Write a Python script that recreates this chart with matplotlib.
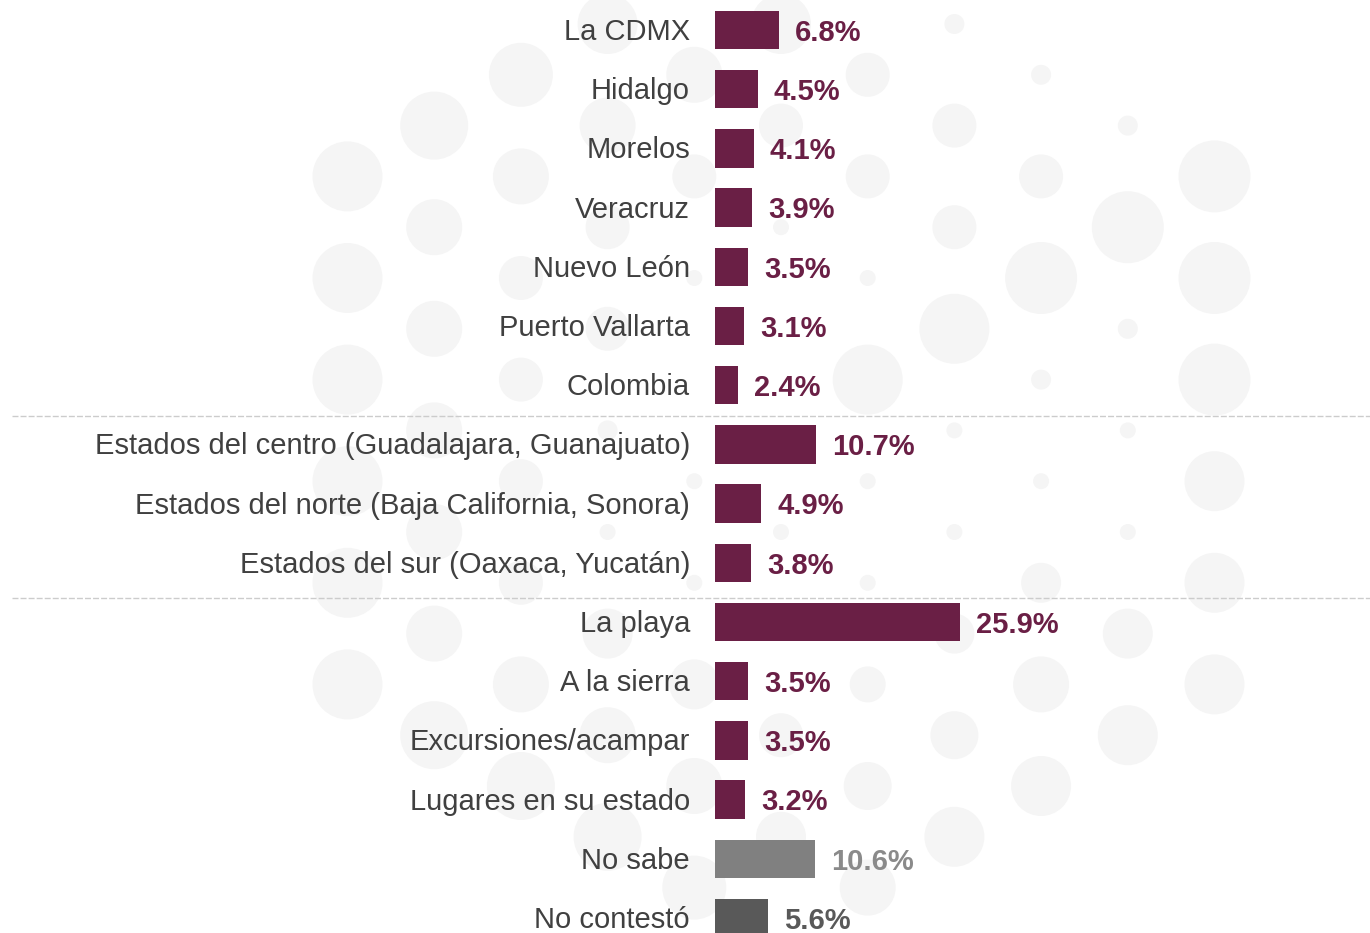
import matplotlib
matplotlib.use("Agg")
import matplotlib.pyplot as plt
from matplotlib.patches import Circle
import numpy as np

plt.rcParams['font.family'] = ['Liberation Sans', 'DejaVu Sans']

categories = ["La CDMX", "Hidalgo", "Morelos", "Veracruz", "Nuevo León",
              "Puerto Vallarta", "Colombia",
              "Estados del centro (Guadalajara, Guanajuato)",
              "Estados del norte (Baja California, Sonora)",
              "Estados del sur (Oaxaca, Yucatán)",
              "La playa", "A la sierra", "Excursiones/acampar",
              "Lugares en su estado", "No sabe", "No contestó"]
values = [6.8, 4.5, 4.1, 3.9, 3.5, 3.1, 2.4, 10.7, 4.9, 3.8,
          25.9, 3.5, 3.5, 3.2, 10.6, 5.6]
value_labels = ["6.8%", "4.5%", "4.1%", "3.9%", "3.5%", "3.1%", "2.4%",
                "10.7%", "4.9%", "3.8%", "25.9%", "3.5%", "3.5%", "3.2%",
                "10.6%", "5.6%"]
group_breaks = [6.52, 9.59]

MAROON = "#6a1f45"
bar_colors = [MAROON] * 14 + ["#808080", "#595959"]
label_colors = [MAROON] * 14 + ["#8a8a8a", "#595959"]

# decorative background dot pattern: (column, row, radius px)
deco_dots = [
    (-5, 3, 35), (-5, 5, 35), (-5, 7, 35), (-5, 9, 35), (-5, 11, 35), (-5, 13, 35),
    (-4, 2, 34), (-4, 4, 28), (-4, 6, 28), (-4, 8, 28), (-4, 10, 28), (-4, 12, 28), (-4, 14, 34),
    (-3, 1, 32), (-3, 3, 28), (-3, 5, 22), (-3, 7, 22), (-3, 9, 22), (-3, 11, 22), (-3, 13, 28), (-3, 15, 34),
    (-2, 0, 30), (-2, 2, 28), (-2, 4, 22), (-2, 6, 22), (-2, 8, 10), (-2, 10, 8), (-2, 12, 25), (-2, 14, 28), (-2, 16, 34),
    (-1, 1, 28), (-1, 3, 22), (-1, 5, 8), (-1, 9, 8), (-1, 11, 8), (-1, 13, 25), (-1, 15, 28), (-1, 17, 32),
    (0, 0, 30), (0, 2, 22), (0, 4, 8), (0, 10, 8), (0, 14, 22), (0, 16, 25),
    (1, 1, 22), (1, 3, 22), (1, 5, 8), (1, 7, 35), (1, 9, 8), (1, 11, 8), (1, 13, 18), (1, 15, 24), (1, 17, 28),
    (2, 0, 10), (2, 2, 22), (2, 4, 22), (2, 6, 35), (2, 8, 8), (2, 10, 8), (2, 12, 20), (2, 14, 24), (2, 16, 30),
    (3, 1, 10), (3, 3, 22), (3, 5, 36), (3, 7, 10), (3, 9, 8), (3, 11, 20), (3, 13, 28), (3, 15, 30),
    (4, 2, 10), (4, 4, 36), (4, 6, 10), (4, 8, 8), (4, 10, 8), (4, 12, 25), (4, 14, 30),
    (5, 3, 36), (5, 5, 36), (5, 7, 36), (5, 9, 30), (5, 11, 30), (5, 13, 30),
]

W, H = 1370, 933
fig = plt.figure(figsize=(W / 100, H / 100), dpi=100)
fig.patch.set_facecolor("white")

bg = fig.add_axes([0, 0, 1, 1])
bg.set_xlim(0, W)
bg.set_ylim(H, 0)
bg.axis("off")
for k, j, r in deco_dots:
    bg.add_patch(Circle((781 + 86.7 * k, 24 + 50.8 * j), r,
                        color="#f5f5f5", lw=0, zorder=0))

ax = fig.add_axes([715 / W, 0, 1 - 715 / W, 1])
ax.patch.set_alpha(0)
y = np.arange(len(categories))
ax.barh(y, values, height=0.65, color=bar_colors, zorder=2)
ax.set_xlim(0, (W - 715) / 9.46)
ax.set_ylim((H - 30) / 59.2, -30 / 59.2)
ax.axis("off")

for i, (v, lab) in enumerate(zip(values, value_labels)):
    ax.annotate(lab, (v, i), xytext=(11.5, -2), textcoords="offset points",
                va="center", ha="left", fontsize=21, fontweight="bold",
                color=label_colors[i], zorder=3)
    ax.annotate(categories[i], (0, i), xytext=(-18, -1.5), textcoords="offset points",
                va="center", ha="right", fontsize=21, color="#404040",
                annotation_clip=False, zorder=3)

for gb in group_breaks:
    yy = (30 + 59.2 * gb)
    bg.plot([12, W], [yy, yy], ls=(0, (4.3, 1.5)), color="#cccccc", lw=1, zorder=1)

fig.savefig("out.png", dpi=100)
